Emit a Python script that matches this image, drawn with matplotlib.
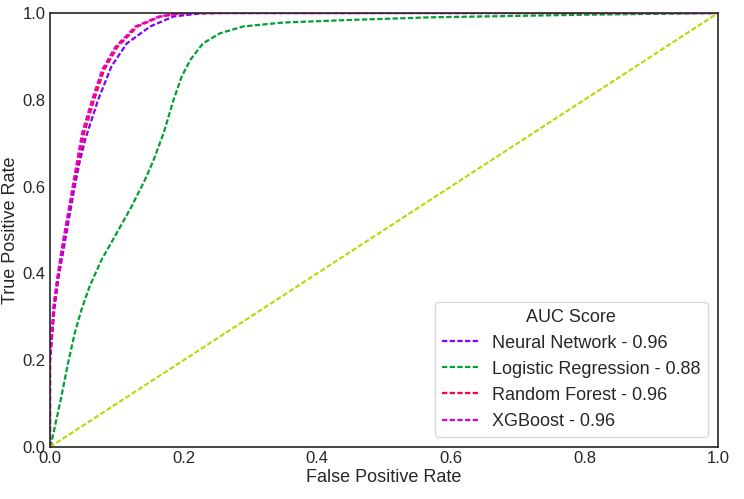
import matplotlib.pyplot as plt

# ROC points (false positive rate, true positive rate)
nn_fpr = [0.0, 0.0, 0.003, 0.007, 0.013, 0.021, 0.029, 0.036, 0.044, 0.053, 0.072,
          0.092, 0.115, 0.150, 0.185, 0.225, 0.26, 1.0]
nn_tpr = [0.0, 0.20, 0.254, 0.323, 0.392, 0.461, 0.531, 0.592, 0.654, 0.710, 0.800,
          0.877, 0.930, 0.969, 0.992, 0.999, 1.0, 1.0]

lr_fpr = [0.0, 0.002, 0.017, 0.027, 0.037, 0.047, 0.059, 0.077, 0.097, 0.122, 0.142,
          0.155, 0.170, 0.185, 0.197, 0.210, 0.229, 0.254, 0.289, 0.349, 0.449,
          0.569, 0.80, 1.0]
lr_tpr = [0.0, 0.009, 0.116, 0.193, 0.262, 0.316, 0.369, 0.431, 0.485, 0.554, 0.615,
          0.661, 0.723, 0.800, 0.853, 0.892, 0.930, 0.953, 0.969, 0.978, 0.984,
          0.990, 0.996, 1.0]

rf_fpr = [0.0, 0.0, 0.003, 0.006, 0.012, 0.019, 0.027, 0.034, 0.042, 0.051, 0.066,
          0.081, 0.101, 0.131, 0.166, 0.196, 0.23, 1.0]
rf_tpr = [0.0, 0.20, 0.254, 0.323, 0.392, 0.461, 0.531, 0.592, 0.654, 0.723, 0.800,
          0.869, 0.922, 0.969, 0.992, 0.999, 1.0, 1.0]

xgb_fpr = [0.0, 0.0, 0.002, 0.005, 0.011, 0.018, 0.026, 0.033, 0.040, 0.048, 0.063,
           0.078, 0.098, 0.128, 0.163, 0.193, 0.22, 1.0]
xgb_tpr = [0.0, 0.20, 0.254, 0.323, 0.392, 0.461, 0.531, 0.592, 0.654, 0.723, 0.800,
           0.869, 0.922, 0.969, 0.992, 0.999, 1.0, 1.0]

labels = ["Neural Network - 0.96", "Logistic Regression - 0.88",
          "Random Forest - 0.96", "XGBoost - 0.96"]
colors = ["#7f00ff", "#00a032", "#ff0040", "#e000d8"]

plt.style.use("seaborn-v0_8-white")
plt.rcParams['font.family'] = ['Liberation Sans', 'DejaVu Sans']

fig = plt.figure(figsize=(7.44, 4.99), dpi=100)
ax = fig.add_axes([50 / 744, 1 - 447 / 499, 668 / 744, 434 / 499])

curves = [(nn_fpr, nn_tpr), (lr_fpr, lr_tpr), (rf_fpr, rf_tpr), (xgb_fpr, xgb_tpr)]
for (fpr, tpr), lab, col in zip(curves, labels, colors):
    ax.plot(fpr, tpr, linestyle="--", linewidth=1.6, dashes=(2.4, 1.05), color=col, label=lab)

ax.plot([0, 1], [0, 1], linestyle="--", linewidth=1.5, dashes=(2.5, 1.1), color="#bcd600")

ax.set_xlim(0, 1)
ax.set_ylim(0, 1)
ax.set_xlabel("False Positive Rate", fontsize=13, color="#262626", labelpad=2)
ax.set_ylabel("True Positive Rate", fontsize=13, color="#262626", labelpad=3)
ax.tick_params(labelsize=12, colors="#262626", pad=3)
for s in ax.spines.values():
    s.set_color("#262626")
    s.set_linewidth(1.2)

leg = ax.legend(title="AUC Score", loc="lower right", fontsize=13, title_fontsize=13,
                frameon=True, labelspacing=0.5, borderaxespad=0.55)
leg.get_frame().set_edgecolor("#d0d0d0")

fig.savefig("out.png", dpi=100)
